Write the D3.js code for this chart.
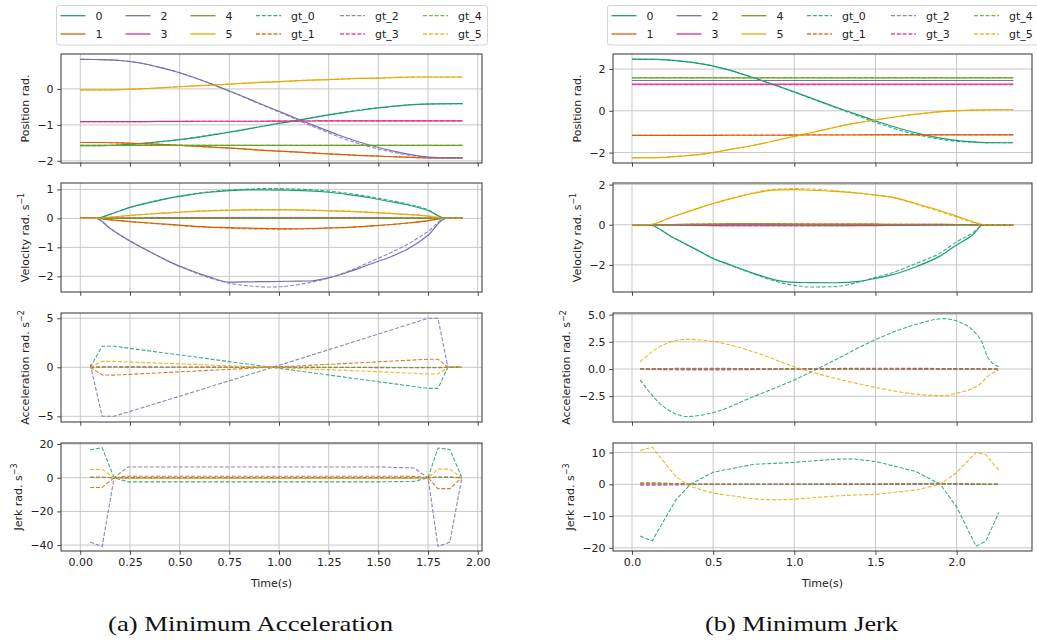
<!DOCTYPE html>
<html><head><meta charset="utf-8">
<script src="https://cdn.jsdelivr.net/npm/d3@7"></script>
<style>
body{margin:0;background:#fff}
svg{display:block}
text{font-family:"DejaVu Sans",sans-serif;fill:#222}
</style>
</head><body>
<svg id="c" width="1037" height="640"></svg>
<script>
// ---------------- DATA: (a) Minimum Acceleration ----------------
const jointNames = ["0","1","2","3","4","5"];
const gtNames = ["gt_0","gt_1","gt_2","gt_3","gt_4","gt_5"];

const tPosA = [0,0.1,0.2,0.3,0.4,0.5,0.6,0.7,0.8,0.9,1.0,1.1,1.2,1.3,1.4,1.5,1.6,1.7,1.8,1.9,1.925];
const posA0 = [-1.58,-1.577,-1.56,-1.52,-1.47,-1.41,-1.34,-1.25,-1.16,-1.06,-0.96,-0.87,-0.77,-0.68,-0.6,-0.53,-0.47,-0.43,-0.415,-0.41,-0.41];
const posA0gt = [-1.58,-1.577,-1.56,-1.52,-1.47,-1.41,-1.33,-1.24,-1.15,-1.05,-0.95,-0.86,-0.76,-0.67,-0.59,-0.52,-0.47,-0.43,-0.415,-0.41,-0.41];
const posA1 = [-1.49,-1.49,-1.5,-1.52,-1.54,-1.57,-1.6,-1.63,-1.66,-1.7,-1.73,-1.76,-1.79,-1.82,-1.85,-1.87,-1.89,-1.91,-1.92,-1.92,-1.92];
const posA2 = [0.82,0.815,0.79,0.72,0.6,0.45,0.26,0.05,-0.17,-0.4,-0.62,-0.85,-1.07,-1.28,-1.47,-1.63,-1.76,-1.86,-1.91,-1.92,-1.92];
const posA2gt = [0.82,0.815,0.79,0.72,0.6,0.45,0.26,0.05,-0.17,-0.41,-0.64,-0.88,-1.11,-1.33,-1.52,-1.67,-1.79,-1.88,-1.92,-1.92,-1.92];
const posA3 = [-0.91,-0.91,-0.91,-0.91,-0.905,-0.905,-0.9,-0.9,-0.9,-0.9,-0.895,-0.895,-0.89,-0.89,-0.89,-0.89,-0.89,-0.89,-0.89,-0.89,-0.89];
const posA4 = [-1.57,-1.57,-1.57,-1.57,-1.57,-1.57,-1.57,-1.57,-1.57,-1.57,-1.57,-1.57,-1.57,-1.57,-1.57,-1.57,-1.57,-1.57,-1.57,-1.57,-1.57];
const posA5 = [-0.03,-0.03,-0.02,0,0.03,0.06,0.09,0.12,0.15,0.18,0.2,0.23,0.25,0.27,0.29,0.3,0.32,0.33,0.33,0.33,0.33];

const tVelA = [0,0.05,0.08,0.15,0.25,0.35,0.45,0.55,0.65,0.75,0.85,0.95,1.05,1.15,1.25,1.35,1.45,1.55,1.65,1.75,1.84,1.9,1.925];
const velA0 = [0,0,0,0.14,0.38,0.55,0.7,0.81,0.9,0.96,0.98,0.98,0.97,0.95,0.9,0.82,0.72,0.59,0.46,0.27,0,0,0];
const velA0gt = [0,0,0,0.14,0.38,0.56,0.71,0.83,0.92,0.98,1.01,1.03,1.02,0.99,0.94,0.86,0.76,0.63,0.49,0.3,0,0,0];
const velA1 = [0,0,0,-0.05,-0.11,-0.16,-0.21,-0.26,-0.3,-0.32,-0.34,-0.35,-0.36,-0.35,-0.33,-0.31,-0.27,-0.22,-0.16,-0.08,0,0,0];
const velA1gt = [0,0,0,-0.05,-0.11,-0.17,-0.22,-0.27,-0.31,-0.34,-0.36,-0.37,-0.37,-0.36,-0.34,-0.31,-0.27,-0.22,-0.16,-0.08,0,0,0];
const velA2 = [0,0,0,-0.35,-0.78,-1.15,-1.5,-1.78,-2.02,-2.2,-2.19,-2.18,-2.17,-2.16,-2.05,-1.85,-1.6,-1.36,-1.05,-0.58,0,0,0];
const velA2gt = [0,0,0,-0.35,-0.78,-1.15,-1.5,-1.8,-2.05,-2.24,-2.33,-2.37,-2.33,-2.22,-2.06,-1.82,-1.53,-1.22,-0.88,-0.45,0,0,0];
const velA3 = [0,0,0,0.005,0.01,0.015,0.02,0.02,0.02,0.02,0.02,0.02,0.02,0.02,0.02,0.02,0.02,0.015,0.01,0.005,0,0,0];
const velA4 = [0,0,0,0,0,0,0,0,0,0,0,0,0,0,0,0,0,0,0,0,0,0,0];
const velA5 = [0,0,0,0.04,0.1,0.15,0.19,0.23,0.26,0.28,0.29,0.29,0.29,0.28,0.26,0.24,0.21,0.17,0.13,0.08,0,0,0];
const velA5gt = [0,0,0,0.04,0.1,0.15,0.2,0.24,0.27,0.29,0.3,0.3,0.3,0.29,0.27,0.25,0.22,0.18,0.14,0.09,0,0,0];

const tAccA = [0.05,0.11,0.17,0.5,1.0,1.5,1.75,1.8,1.85,1.92];
const accA0 = [0,2.15,2.15,1.26,-0.1,-1.47,-2.15,-2.15,0,0];
const accA1 = [0,-0.78,-0.8,-0.46,0.05,0.56,0.82,0.82,0,0];
const accA2 = [0.3,-5.0,-5.0,-2.95,0.2,3.4,5.0,5.0,0,0];
const accA3 = [0,0.05,0.05,0.03,0,-0.03,-0.05,-0.05,0,0];
const accA4 = [0,0.02,0.02,0.01,0,-0.01,-0.02,-0.02,0,0];
const accA5 = [0,0.6,0.6,0.35,-0.05,-0.45,-0.68,-0.68,0,0];

const tJerkA = [0.05,0.11,0.17,0.24,0.5,1.0,1.5,1.68,1.75,1.8,1.86,1.92];
const jerkA0 = [16.6,17.8,0,-2.5,-2.5,-2.5,-2.5,-2.2,0,17.6,16.8,0];
const jerkA1 = [-5.8,-5.8,0,0.9,0.9,0.9,0.9,0.8,0,-6.5,-6.5,0];
const jerkA2 = [-38.2,-40.8,0,6.4,6.4,6.4,6.4,5.8,0,-40.8,-38.2,0];
const jerkA3 = [0.3,0.3,0,-0.1,-0.1,-0.1,-0.1,-0.1,0,0.4,0.4,0];
const jerkA4 = [0.2,0.2,0,0,0,0,0,0,0,0.2,0.2,0];
const jerkA5 = [4.8,5.0,0,-0.5,-0.5,-0.5,-0.5,-0.4,0,5.1,5.1,0];

// ---------------- DATA: (b) Minimum Jerk ----------------
const tPosB = [0,0.15,0.3,0.45,0.6,0.75,0.9,1.05,1.2,1.35,1.5,1.65,1.8,1.95,2.1,2.25,2.35];
const posB0 = [2.47,2.46,2.38,2.22,1.95,1.58,1.18,0.76,0.33,-0.08,-0.48,-0.85,-1.15,-1.37,-1.49,-1.53,-1.53];
const posB0gt = [2.47,2.46,2.38,2.22,1.95,1.58,1.18,0.75,0.31,-0.12,-0.55,-0.93,-1.22,-1.42,-1.51,-1.53,-1.53];
const posB1 = [-1.18,-1.18,-1.18,-1.18,-1.17,-1.17,-1.17,-1.16,-1.16,-1.16,-1.15,-1.15,-1.15,-1.15,-1.15,-1.15,-1.15];
const posB1gt = [-1.17,-1.17,-1.17,-1.17,-1.16,-1.16,-1.16,-1.15,-1.15,-1.15,-1.14,-1.14,-1.14,-1.14,-1.14,-1.14,-1.14];
const posB2 = [1.45,1.45,1.45,1.45,1.45,1.45,1.45,1.45,1.45,1.45,1.45,1.45,1.45,1.45,1.45,1.45,1.45];
const posB3 = [1.28,1.28,1.28,1.28,1.28,1.28,1.28,1.28,1.28,1.28,1.28,1.28,1.28,1.28,1.28,1.28,1.28];
const posB3gt = [1.25,1.25,1.25,1.25,1.25,1.25,1.25,1.25,1.25,1.25,1.25,1.25,1.25,1.25,1.25,1.25,1.25];
const posB4 = [1.58,1.58,1.58,1.58,1.58,1.58,1.58,1.58,1.58,1.58,1.58,1.58,1.58,1.58,1.58,1.58,1.58];
const posB5 = [-2.25,-2.24,-2.17,-2.06,-1.86,-1.65,-1.4,-1.14,-0.88,-0.63,-0.44,-0.26,-0.12,-0.02,0.03,0.05,0.05];

const tVelB = [0,0.05,0.1,0.25,0.4,0.5,0.6,0.75,0.9,1.0,1.1,1.25,1.4,1.5,1.6,1.75,1.9,2.0,2.1,2.165,2.25,2.35];
const velB0 = [0,0,0,-0.62,-1.25,-1.68,-1.98,-2.42,-2.78,-2.87,-2.88,-2.89,-2.82,-2.67,-2.5,-2.09,-1.55,-1.01,-0.5,0,0,0];
const velB0gt = [0,0,0,-0.62,-1.25,-1.68,-2.0,-2.45,-2.85,-3.02,-3.1,-3.08,-2.85,-2.62,-2.4,-1.93,-1.4,-0.85,-0.4,0,0,0];
const velB1 = [0,0,0,0.01,0.02,0.02,0.03,0.03,0.03,0.03,0.03,0.03,0.03,0.03,0.02,0.02,0.02,0.01,0.01,0,0,0];
const velB2 = [0,0,0,0,0,0,0,0,0,0,0,0,0,0,0,0,0,0,0,0,0,0];
const velB3 = [0,0,0,-0.01,-0.03,-0.04,-0.05,-0.05,-0.05,-0.05,-0.05,-0.05,-0.04,-0.04,-0.03,-0.02,-0.01,0,0,0,0,0];
const velB4 = [0,0,0,0.01,0.02,0.03,0.04,0.04,0.03,0.02,0.01,0,0,0,0,0,0,0,0,0,0,0];
const velB5 = [0,0,0,0.4,0.8,1.06,1.28,1.57,1.74,1.75,1.72,1.66,1.57,1.48,1.38,1.06,0.7,0.43,0.15,0,0,0];
const velB5gt = [0,0,0,0.4,0.8,1.06,1.29,1.6,1.78,1.8,1.78,1.7,1.58,1.48,1.36,1.02,0.65,0.38,0.12,0,0,0];

const tAccB = [0.05,0.17,0.34,0.5,0.75,1.0,1.25,1.5,1.75,1.92,2.0,2.15,2.19,2.26];
const accB0 = [-1.0,-3.14,-4.36,-4.0,-2.53,-1.0,0.82,2.71,4.1,4.63,4.42,2.65,1.13,0.2];
const accB1 = [0,0.03,0.04,0.04,0.03,0.01,-0.01,-0.02,-0.03,-0.04,-0.03,-0.02,-0.01,0];
const accB2 = [0,0.01,0.01,0.01,0,0,0,0,-0.01,-0.01,-0.01,0,0,0];
const accB3 = [0,-0.05,-0.08,-0.08,-0.05,0,0.05,0.07,0.06,0.05,0.04,0.02,0.01,0];
const accB4 = [0,0.04,0.06,0.06,0.04,0.01,-0.02,-0.04,-0.05,-0.04,-0.03,-0.02,-0.01,0];
const accB5 = [0.67,2.04,2.73,2.53,1.58,0.21,-0.85,-1.68,-2.32,-2.45,-2.23,-1.31,-0.7,-0.1];

const tJerkB = [0.05,0.125,0.27,0.36,0.5,0.75,0.88,1.0,1.25,1.36,1.5,1.75,1.9,2.0,2.12,2.18,2.26];
const jerkB0 = [-16.3,-17.8,-4.9,0,3.8,6.3,6.6,6.9,7.9,8.0,7.2,4.0,0,-7.1,-19.5,-17.9,-8.9];
const jerkB1 = [0.5,0.5,0.2,0.1,0,0,0,0,0,0,0,0.1,0.2,0.1,0,0,0];
const jerkB2 = [0,0,0,0,0,0,0,0,0,0,0,0,0,0,0,0,0];
const jerkB3 = [-0.3,-0.3,-0.2,-0.1,0,0,0,0,0.1,0.1,0.1,0.2,0.3,0.2,0.1,0,0];
const jerkB4 = [0.3,0.3,0.1,0,0,0,0,0,0,0,0.1,0.2,0.3,0.2,0.1,0,0];
const jerkB5 = [10.6,11.7,2.4,-0.7,-2.8,-4.6,-4.9,-4.7,-3.7,-3.4,-3.2,-1.8,0,3.7,10.0,9.3,4.5];

// tick labels
const xTicksA = [0,0.25,0.5,0.75,1.0,1.25,1.5,1.75,2.0];
const xTicksB = [0,0.5,1.0,1.5,2.0];
const captions = ["(a) Minimum Acceleration","(b) Minimum Jerk"];

// ---------------- STYLE / LAYOUT ----------------
const colors = ["#1b9e77","#d95f02","#7570b3","#e7298a","#66a61e","#e6ab02"];
const rowY = [[54,163],[183,292],[313,422],[443,551]];
const svg = d3.select("#c");
const FS = 11;

const panels = [
 { x0:61, x1:482, xDomain:[-0.0971,2.0216], xTicks:xTicksA, xFmt:d3.format(".2f"), cap:captions[0], capW:285, capX:250.5,
   rows:[
    {yDomain:[-2.06,0.97], yTicks:[-2,-1,0], fmt:d3.format("d"), label:"Position rad.", sup:null, t:tPosA, curve:true,
     pred:[posA0,posA1,posA2,posA3,posA4,posA5], gt:[posA0gt,posA1,posA2gt,posA3,posA4,posA5]},
    {yDomain:[-2.54,1.22], yTicks:[-2,-1,0,1], fmt:d3.format("d"), label:"Velocity rad. s", sup:"−1", t:tVelA, curve:true,
     pred:[velA0,velA1,velA2,velA3,velA4,velA5], gt:[velA0gt,velA1gt,velA2gt,velA3,velA4,velA5gt]},
    {yDomain:[-5.58,5.54], yTicks:[-5,0,5], fmt:d3.format("d"), label:"Acceleration rad. s", sup:"−2", t:tAccA, curve:false,
     pred:null, gt:[accA0,accA1,accA2,accA3,accA4,accA5]},
    {yDomain:[-43.5,20.6], yTicks:[-40,-20,0,20], fmt:d3.format("d"), label:"Jerk rad. s", sup:"−3", t:tJerkA, curve:false,
     pred:null, gt:[jerkA0,jerkA1,jerkA2,jerkA3,jerkA4,jerkA5]}
   ]},
 { x0:613, x1:1032, xDomain:[-0.117,2.4646], xTicks:xTicksB, xFmt:d3.format(".1f"), cap:captions[1], capW:193, capX:801.5,
   rows:[
    {yDomain:[-2.5,2.72], yTicks:[-2,0,2], fmt:d3.format("d"), label:"Position rad.", sup:null, t:tPosB, curve:true,
     pred:[posB0,posB1,posB2,posB3,posB4,posB5], gt:[posB0gt,posB1gt,posB2,posB3gt,posB4,posB5]},
    {yDomain:[-3.35,2.08], yTicks:[-2,0,2], fmt:d3.format("d"), label:"Velocity rad. s", sup:"−1", t:tVelB, curve:true,
     pred:[velB0,velB1,velB2,velB3,velB4,velB5], gt:[velB0gt,velB1,velB2,velB3,velB4,velB5gt]},
    {yDomain:[-4.87,5.15], yTicks:[-2.5,0,2.5,5], fmt:d3.format(".1f"), label:"Acceleration rad. s", sup:"−2", t:tAccB, curve:true,
     pred:null, gt:[accB0,accB1,accB2,accB3,accB4,accB5]},
    {yDomain:[-21,13], yTicks:[-20,-10,0,10], fmt:d3.format("d"), label:"Jerk rad. s", sup:"−3", t:tJerkB, curve:false,
     pred:null, gt:[jerkB0,jerkB1,jerkB2,jerkB3,jerkB4,jerkB5]}
   ]}
];

const defs = svg.append("defs");
let clipId = 0;

panels.forEach((P, pi) => {
  const x = d3.scaleLinear().domain(P.xDomain).range([P.x0, P.x1]);
  P.rows.forEach((R, ri) => {
    const [yt, yb] = rowY[ri];
    const y = d3.scaleLinear().domain(R.yDomain).range([yb, yt]);
    const g = svg.append("g");
    // grid
    g.selectAll(null).data(P.xTicks).enter().append("line")
      .attr("x1", d=>x(d)).attr("x2", d=>x(d)).attr("y1", yt).attr("y2", yb)
      .attr("stroke","#c2c2c2").attr("stroke-width",0.9);
    g.selectAll(null).data(R.yTicks).enter().append("line")
      .attr("y1", d=>y(d)).attr("y2", d=>y(d)).attr("x1", P.x0).attr("x2", P.x1)
      .attr("stroke","#c2c2c2").attr("stroke-width",0.9);
    // clip
    const id = "clip"+(clipId++);
    defs.append("clipPath").attr("id", id).append("rect")
      .attr("x", P.x0).attr("y", yt).attr("width", P.x1-P.x0).attr("height", yb-yt);
    const lg = g.append("g").attr("clip-path", `url(#${id})`);
    const line = d3.line().x((d,i)=>x(R.t[i])).y(d=>y(d));
    if (R.curve) line.curve(d3.curveMonotoneX);
    if (R.pred) R.pred.forEach((arr, j) => {
      lg.append("path").attr("d", line(arr)).attr("fill","none")
        .attr("stroke", colors[j]).attr("stroke-width",1.2);
    });
    R.gt.forEach((arr, j) => {
      lg.append("path").attr("d", line(arr)).attr("fill","none")
        .attr("stroke", colors[j]).attr("stroke-width",1.1).attr("stroke-opacity",0.85)
        .attr("stroke-dasharray","4,1.8");
    });
    // frame
    g.append("rect").attr("x",P.x0).attr("y",yt).attr("width",P.x1-P.x0).attr("height",yb-yt)
      .attr("fill","none").attr("stroke","#333").attr("stroke-width",1);
    // y axis
    const ya = g.append("g").attr("transform",`translate(${P.x0},0)`)
      .call(d3.axisLeft(y).tickValues(R.yTicks).tickFormat(R.fmt).tickSize(3.8).tickPadding(3.6));
    ya.select(".domain").remove();
    ya.selectAll(".tick line").attr("stroke","#333").attr("stroke-width",0.9);
    ya.selectAll(".tick text").attr("font-size",FS).attr("font-family","DejaVu Sans").attr("fill","#222");
    // x axis
    const xa = g.append("g").attr("transform",`translate(0,${yb})`)
      .call(d3.axisBottom(x).tickValues(P.xTicks).tickFormat(ri===3 ? P.xFmt : "").tickSize(3.8).tickPadding(3.6));
    xa.select(".domain").remove();
    xa.selectAll(".tick line").attr("stroke","#333").attr("stroke-width",0.9);
    xa.selectAll(".tick text").attr("font-size",FS).attr("font-family","DejaVu Sans").attr("fill","#222");
    // y label
    let maxW = 0;
    ya.selectAll(".tick text").each(function(){ maxW = Math.max(maxW, this.getBBox().width); });
    const labelRight = P.x0 - 3.8 - 3.6 - maxW - 6;
    const bx = labelRight - 2.6;
    const cy = (yt+yb)/2;
    const tl = g.append("text").attr("transform",`translate(${bx},${cy}) rotate(-90)`)
      .attr("text-anchor","middle").attr("font-size",FS);
    tl.append("tspan").text(R.label);
    if (R.sup) {
      tl.append("tspan").attr("font-size",8).attr("dy",-4.5).text(R.sup);
    }
    if (ri===3) {
      g.append("text").attr("x",(P.x0+P.x1)/2).attr("y",yb+35.5)
        .attr("text-anchor","middle").attr("font-size",FS).text("Time(s)");
    }
  });
  // caption
  svg.append("text").attr("x", P.capX).attr("y", 631)
    .attr("text-anchor","middle").attr("font-size",22)
    .style("font-family","'Liberation Serif',serif").style("fill","#111")
    .attr("textLength", P.capW).attr("lengthAdjust","spacingAndGlyphs")
    .text(P.cap);
});

// legends
const legendBoxes = [56.5, 607.5];
const colOff = [4.5, 69.5, 134.5, 200, 284, 367];
legendBoxes.forEach(bx0 => {
  const lg = svg.append("g");
  lg.append("rect").attr("x",bx0).attr("y",5.5).attr("width",431).attr("height",39.5)
    .attr("rx",2.5).attr("fill","#fff").attr("stroke","#d4d4d4").attr("stroke-width",1);
  const entries = [];
  jointNames.forEach((n,j)=>entries.push({name:n, j, dashed:false, idx:j}));
  gtNames.forEach((n,j)=>entries.push({name:n, j, dashed:true, idx:6+j}));
  entries.forEach(e => {
    const col = Math.floor(e.idx/2), row = e.idx%2;
    const cy = row===0 ? 15.7 : 34;
    const x0 = bx0 - 0.5 + colOff[col];
    lg.append("line").attr("x1",x0).attr("x2",x0+25).attr("y1",cy).attr("y2",cy)
      .attr("stroke",colors[e.j]).attr("stroke-width",1.3)
      .attr("stroke-opacity", e.dashed?0.85:1)
      .attr("stroke-dasharray", e.dashed?"4,1.8":null);
    lg.append("text").attr("x",x0+35).attr("y",cy).attr("dy","0.36em")
      .attr("font-size",FS).text(e.name);
  });
});
</script>
</body></html>
